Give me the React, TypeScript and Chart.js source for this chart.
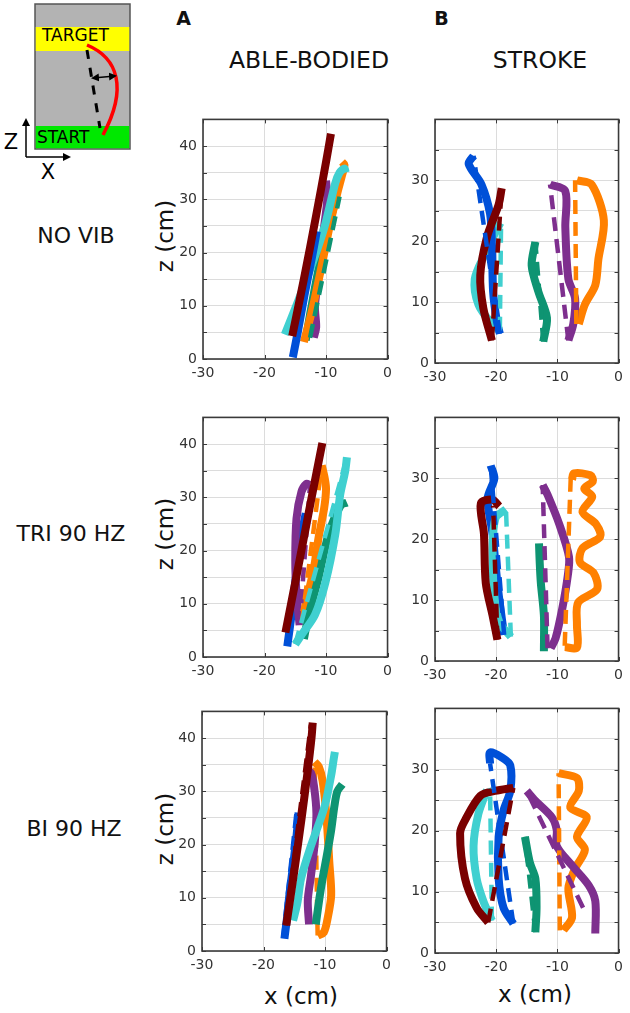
import React, { useEffect, useRef } from 'react';
import { Chart, registerables } from 'chart.js';

Chart.register(...registerables);

type Pt = [number, number];

// ---------- tick / label text ----------
const X_TICKS = [-30, -20, -10, 0];
const ROW_LABELS = ['NO VIB', 'TRI 90 HZ', 'BI 90 HZ'];
const COLUMN_TITLES = ['ABLE-BODIED', 'STROKE'];
const PANEL_LETTERS = ['A', 'B'];
const Y_LABEL = 'z (cm)';
const X_LABEL = 'x (cm)';

// ---------- ABLE-BODIED, NO VIB ----------
const abNoVibMaroon: Pt[] = [[-15.5, 4.3], [-13.6, 15], [-11.6, 27], [-10, 37], [-9.2, 42.3]];
const abNoVibBlue: Pt[] = [[-15.4, 0.3], [-14.6, 5], [-13.5, 12], [-12.3, 19], [-11.5, 24]];
const abNoVibCyan: Pt[] = [[-16.7, 4.6], [-14.5, 11], [-12.2, 18], [-10.2, 25], [-8.5, 33], [-7.8, 35], [-7, 35.8], [-6.8, 35]];
const abNoVibOrange: Pt[] = [[-13.6, 3.2], [-12.3, 9], [-10.8, 17], [-9.4, 25], [-8.2, 31], [-7.4, 34.5], [-7, 36.5], [-7.4, 37]];
const abNoVibGreen: Pt[] = [[-13.3, 3.5], [-12.5, 9], [-11.2, 17], [-9.8, 24], [-8.4, 30]];
const abNoVibGreenDash: Pt[] = [[-12.6, 4], [-7.8, 30.5]];
const abNoVibPurple: Pt[] = [[-12, 4], [-11.6, 6], [-11.8, 10], [-11, 17], [-10.4, 24], [-9.8, 30], [-10, 33.5]];

// ---------- ABLE-BODIED, TRI 90 HZ ----------
const abTriMaroon: Pt[] = [[-16.6, 4.6], [-14.5, 17], [-12.5, 29], [-10.6, 40.2]];
const abTriBlue: Pt[] = [[-16.3, 2], [-15.6, 8], [-14.8, 16], [-13.8, 24], [-13.3, 27]];
const abTriPurple: Pt[] = [[-14.3, 6], [-14.8, 12], [-15, 18], [-14.8, 26], [-14, 31], [-13.2, 32.5], [-12.6, 32.3]];
const abTriPurpleDash: Pt[] = [[-14.3, 6], [-12.6, 32.3]];
const abTriOrange: Pt[] = [[-13.9, 6.7], [-13.1, 11], [-12, 16.5], [-11.2, 22.5], [-10.3, 28], [-10, 31.5], [-10.2, 33.5], [-10.7, 36]];
const abTriOrangeDash: Pt[] = [[-13.9, 6.7], [-10.7, 36]];
const abTriCyan: Pt[] = [[-15, 2.4], [-13.9, 4.3], [-11.8, 7.9], [-10.1, 14], [-8.5, 23], [-7.7, 30.5], [-6.9, 34.8], [-6.6, 37.5]];
const abTriCyanDash: Pt[] = [[-15, 2.4], [-6.6, 37.5]];
const abTriGreen: Pt[] = [[-13.6, 3.4], [-12.8, 8], [-11.2, 15], [-9.6, 23], [-7.6, 28.5], [-6.6, 29]];

// ---------- ABLE-BODIED, BI 90 HZ ----------
const abBiMaroon: Pt[] = [[-16.3, 4.8], [-15, 15], [-13.8, 25], [-12.8, 34], [-12.2, 40], [-12, 42.9]];
const abBiMaroonDash: Pt[] = [[-16.4, 4.8], [-12.3, 42.5]];
const abBiBlue: Pt[] = [[-16.6, 2.3], [-16.2, 6], [-15.8, 10.5], [-15.2, 16], [-14.6, 22], [-14.3, 26]];
const abBiBlueDash: Pt[] = [[-16.8, 2.5], [-14.6, 26.5]];
const abBiPurple: Pt[] = [[-12.6, 5], [-12.8, 9.5], [-12.3, 14], [-11.7, 20], [-11.4, 25.8], [-11.8, 31], [-12.3, 33.5], [-13, 34]];
const abBiOrange: Pt[] = [[-11.2, 2.9], [-10.2, 3.5], [-9.6, 6], [-9, 10.5], [-9.3, 16.6], [-9.8, 25.8], [-10.4, 32], [-11, 34.6], [-11.7, 35.5]];
const abBiOrangeDash: Pt[] = [[-11.2, 2.9], [-11.7, 35.5]];
const abBiCyan: Pt[] = [[-15.2, 5.7], [-14.5, 9], [-13.9, 13.6], [-12.3, 19.7], [-10.1, 27], [-9, 33], [-8.6, 36], [-8.4, 37.4]];
const abBiGreen: Pt[] = [[-11.5, 5], [-10.9, 10], [-10.4, 13.6], [-9.7, 18], [-9, 22.7], [-8.5, 27], [-8, 30], [-7.2, 31.3]];

// ---------- STROKE, NO VIB ----------
const stNoVibBlue: Pt[] = [[-19.4, 4.8], [-19.9, 6.9], [-20.5, 11.7], [-20.7, 19.7], [-21, 24.5], [-22.4, 29.3], [-24.5, 32.7], [-23.7, 34]];
const stNoVibBlueDash: Pt[] = [[-19.4, 4.8], [-23.7, 34]];
const stNoVibMaroon: Pt[] = [[-20.7, 3.7], [-22.1, 9], [-22.6, 14.4], [-21.5, 20.7], [-19.6, 26], [-19.1, 28.7]];
const stNoVibMaroonDash: Pt[] = [[-20.7, 3.7], [-19.1, 28.7]];
const stNoVibCyan: Pt[] = [[-19.4, 5.3], [-20.7, 6.4], [-22.9, 9.6], [-23.5, 13.8], [-21.8, 18], [-20.2, 21.3], [-19.3, 23]];
const stNoVibCyanDash: Pt[] = [[-19.4, 5.3], [-19.2, 23]];
const stNoVibGreen: Pt[] = [[-12.3, 3.5], [-11.7, 7.4], [-13.1, 11.7], [-14.2, 16], [-13.6, 19.9]];
const stNoVibGreenDash: Pt[] = [[-12.3, 3.5], [-13.6, 19.9]];
const stNoVibPurple: Pt[] = [[-8.2, 3.7], [-7.4, 6.4], [-7.1, 10.6], [-8.2, 13.8], [-8.7, 22.3], [-8.7, 28.2], [-11.2, 29.3]];
const stNoVibPurpleDash: Pt[] = [[-8.2, 3.7], [-11.2, 29.3]];
const stNoVibOrange: Pt[] = [[-6.5, 6.4], [-5.5, 9.6], [-3.8, 12.8], [-3.3, 17], [-2.4, 23.4], [-4.4, 29.3], [-6.8, 30]];
const stNoVibOrangeDash: Pt[] = [[-6.9, 6.4], [-7.1, 30]];

// ---------- STROKE, TRI 90 HZ ----------
const stTriBlue: Pt[] = [[-18.7, 4.3], [-19.3, 8.6], [-19.8, 12.8], [-20.6, 20.9], [-21.4, 26.7], [-20.3, 30], [-20.9, 32.1]];
const stTriBlueDash: Pt[] = [[-18.7, 4.3], [-20.9, 32.1]];
const stTriMaroon: Pt[] = [[-19.8, 3.5], [-20.6, 7.5], [-21.7, 12.8], [-22, 20.9], [-22.5, 25.9], [-20.6, 26.5], [-19.5, 25.4]];
const stTriMaroonDash: Pt[] = [[-19.8, 3.5], [-20.5, 25.5]];
const stTriCyan: Pt[] = [[-17.6, 4], [-19.5, 6.4], [-20.3, 10.7], [-20.6, 18.2], [-20.1, 23.5], [-18.4, 24.9]];
const stTriCyanDash: Pt[] = [[-17.6, 4], [-18.4, 24.9]];
const stTriGreen: Pt[] = [[-12.2, 1.6], [-12.2, 7.5], [-12.7, 12.8], [-12.9, 16.5], [-13, 19.3]];
const stTriPurple: Pt[] = [[-11.1, 2.1], [-10.3, 3.7], [-9.2, 8.6], [-8.3, 14], [-8.1, 17.1], [-9.7, 22.5], [-11.6, 27.3], [-12.4, 28.9]];
const stTriPurpleDash: Pt[] = [[-11.6, 2.1], [-12.4, 28.9]];
const stTriOrange: Pt[] = [[-8.8, 2.3], [-6.8, 2.2], [-6.8, 6], [-6.6, 9.6], [-3.5, 11.8], [-4.1, 14.5], [-6.3, 16.2], [-5.9, 18.5], [-3, 20.4], [-3.7, 22.5], [-5.9, 24.5], [-4.3, 27], [-5.6, 28.3], [-4.2, 29.5], [-4.6, 30.5], [-7.3, 30.8], [-7.6, 29.8]];
const stTriOrangeDash: Pt[] = [[-8.8, 2.5], [-7.8, 30.5]];

// ---------- STROKE, BI 90 HZ ----------
const stBiBlue: Pt[] = [[-17.2, 4.8], [-18.8, 7.4], [-19.6, 12.2], [-19.6, 19], [-18.8, 23.3], [-17.7, 26.5], [-17.7, 30.7], [-19.1, 32], [-21, 32.8], [-21, 31]];
const stBiBlueDash: Pt[] = [[-17.2, 4.8], [-21, 31]];
const stBiMaroon: Pt[] = [[-21.3, 5], [-23.2, 7.4], [-25.1, 12.2], [-25.9, 19.6], [-25.1, 21.7], [-22.6, 25.7], [-20.2, 26.5], [-17.2, 27]];
const stBiMaroonDash: Pt[] = [[-21.3, 5], [-17.2, 27]];
const stBiCyan: Pt[] = [[-20.7, 5.3], [-22.1, 8.5], [-23.2, 12.2], [-23.7, 17.5], [-22.9, 22.8], [-21.5, 26.7]];
const stBiCyanDash: Pt[] = [[-20.7, 5.3], [-21, 27]];
const stBiGreen: Pt[] = [[-13.6, 3.4], [-13.4, 7.4], [-13.6, 12.2], [-14.5, 14.8], [-15.3, 19]];
const stBiGreenDash: Pt[] = [[-13.6, 3.4], [-15.3, 19]];
const stBiPurple: Pt[] = [[-3.8, 3.2], [-3.8, 8.5], [-4.9, 11.1], [-7.6, 14.3], [-10.1, 17.5], [-10.1, 20.1], [-10.9, 22.2], [-13.6, 24.9], [-15, 26.5]];
const stBiPurpleDash: Pt[] = [[-5.8, 7.4], [-15, 26.5]];
const stBiOrange: Pt[] = [[-9, 3.7], [-7.6, 5.8], [-8.2, 10.6], [-7.1, 13.8], [-5.5, 16.9], [-6.8, 19], [-5.2, 22.2], [-7.9, 23.8], [-6.5, 26.5], [-6.8, 28.6], [-9.8, 29.4]];
const stBiOrangeDash: Pt[] = [[-9.6, 3.7], [-9.8, 29.4]];

// ---------- styles ----------
const COLORS: Record<string, string> = {
  blue: '#0050d8',
  maroon: '#7a0000',
  cyan: '#40d0d0',
  green: '#0e9472',
  purple: '#7e2f8e',
  orange: '#ff8000',
};
const FONT = "'DejaVu Sans', Verdana, sans-serif";

type Trace = { pts: Pt[]; color: string; dashed?: boolean };
type Box = { l: number; r: number; t: number; b: number };

// traces listed top-most first
const PANELS: { box: Box; yMax: number; traces: Trace[] }[] = [
  {
    box: { l: 203, r: 388, t: 113, b: 359 }, yMax: 45,
    traces: [
      { pts: abNoVibMaroon, color: 'maroon' },
      { pts: abNoVibBlue, color: 'blue' },
      { pts: abNoVibCyan, color: 'cyan' },
      { pts: abNoVibGreenDash, color: 'green', dashed: true },
      { pts: abNoVibOrange, color: 'orange' },
      { pts: abNoVibGreen, color: 'green' },
      { pts: abNoVibPurple, color: 'purple' },
    ],
  },
  {
    box: { l: 435, r: 619, t: 113, b: 363 }, yMax: 40,
    traces: [
      { pts: stNoVibMaroonDash, color: 'maroon', dashed: true },
      { pts: stNoVibBlueDash, color: 'blue', dashed: true },
      { pts: stNoVibCyanDash, color: 'cyan', dashed: true },
      { pts: stNoVibGreenDash, color: 'green', dashed: true },
      { pts: stNoVibPurpleDash, color: 'purple', dashed: true },
      { pts: stNoVibOrangeDash, color: 'orange', dashed: true },
      { pts: stNoVibMaroon, color: 'maroon' },
      { pts: stNoVibBlue, color: 'blue' },
      { pts: stNoVibCyan, color: 'cyan' },
      { pts: stNoVibGreen, color: 'green' },
      { pts: stNoVibPurple, color: 'purple' },
      { pts: stNoVibOrange, color: 'orange' },
    ],
  },
  {
    box: { l: 203, r: 388, t: 411, b: 657 }, yMax: 45,
    traces: [
      { pts: abTriMaroon, color: 'maroon' },
      { pts: abTriCyanDash, color: 'cyan', dashed: true },
      { pts: abTriCyan, color: 'cyan' },
      { pts: abTriGreen, color: 'green' },
      { pts: abTriOrangeDash, color: 'orange', dashed: true },
      { pts: abTriPurpleDash, color: 'purple', dashed: true },
      { pts: abTriOrange, color: 'orange' },
      { pts: abTriPurple, color: 'purple' },
      { pts: abTriBlue, color: 'blue' },
    ],
  },
  {
    box: { l: 435, r: 619, t: 411, b: 661 }, yMax: 40,
    traces: [
      { pts: stTriMaroonDash, color: 'maroon', dashed: true },
      { pts: stTriCyanDash, color: 'cyan', dashed: true },
      { pts: stTriPurpleDash, color: 'purple', dashed: true },
      { pts: stTriOrangeDash, color: 'orange', dashed: true },
      { pts: stTriBlueDash, color: 'blue', dashed: true },
      { pts: stTriMaroon, color: 'maroon' },
      { pts: stTriCyan, color: 'cyan' },
      { pts: stTriBlue, color: 'blue' },
      { pts: stTriGreen, color: 'green' },
      { pts: stTriPurple, color: 'purple' },
      { pts: stTriOrange, color: 'orange' },
    ],
  },
  {
    box: { l: 202, r: 387, t: 705, b: 951 }, yMax: 45,
    traces: [
      { pts: abBiMaroon, color: 'maroon' },
      { pts: abBiMaroonDash, color: 'maroon', dashed: true },
      { pts: abBiCyan, color: 'cyan' },
      { pts: abBiGreen, color: 'green' },
      { pts: abBiPurple, color: 'purple' },
      { pts: abBiOrangeDash, color: 'orange', dashed: true },
      { pts: abBiOrange, color: 'orange' },
      { pts: abBiBlueDash, color: 'blue', dashed: true },
      { pts: abBiBlue, color: 'blue' },
    ],
  },
  {
    box: { l: 435, r: 619, t: 702, b: 953 }, yMax: 40,
    traces: [
      { pts: stBiMaroonDash, color: 'maroon', dashed: true },
      { pts: stBiCyanDash, color: 'cyan', dashed: true },
      { pts: stBiBlueDash, color: 'blue', dashed: true },
      { pts: stBiGreenDash, color: 'green', dashed: true },
      { pts: stBiPurpleDash, color: 'purple', dashed: true },
      { pts: stBiOrangeDash, color: 'orange', dashed: true },
      { pts: stBiMaroon, color: 'maroon' },
      { pts: stBiBlue, color: 'blue' },
      { pts: stBiCyan, color: 'cyan' },
      { pts: stBiGreen, color: 'green' },
      { pts: stBiPurple, color: 'purple' },
      { pts: stBiOrange, color: 'orange' },
    ],
  },
];

const YW = 45;
const PT = 8;
const PR = 10;
const XH = 32;

const framePlugin = {
  id: 'frameBox',
  afterDraw(chart: any) {
    const { ctx, chartArea: a, scales } = chart;
    ctx.save();
    ctx.strokeStyle = '#3a3a3a';
    ctx.lineWidth = 1;
    scales.y.ticks.forEach((t: any) => {
      const y = Math.round(scales.y.getPixelForValue(t.value)) + 0.5;
      ctx.beginPath();
      ctx.moveTo(a.left, y);
      ctx.lineTo(a.left + 4, y);
      ctx.moveTo(a.right, y);
      ctx.lineTo(a.right - 4, y);
      ctx.stroke();
    });
    scales.x.ticks.forEach((t: any) => {
      const x = Math.round(scales.x.getPixelForValue(t.value)) + 0.5;
      ctx.beginPath();
      ctx.moveTo(x, a.bottom);
      ctx.lineTo(x, a.bottom - 4);
      ctx.moveTo(x, a.top);
      ctx.lineTo(x, a.top + 4);
      ctx.stroke();
    });
    ctx.lineWidth = 1.6;
    ctx.strokeRect(a.left, a.top, a.right - a.left, a.bottom - a.top);
    ctx.restore();
  },
};

function Panel({ box, yMax, traces }: { box: Box; yMax: number; traces: Trace[] }) {
  const ref = useRef<HTMLCanvasElement>(null);
  const w = YW + (box.r - box.l) + PR;
  const h = PT + (box.b - box.t) + XH;
  useEffect(() => {
    if (!ref.current) return;
    const chart = new Chart(ref.current, {
      type: 'scatter',
      data: {
        datasets: traces.map((tr, i) => ({
          data: tr.pts.map(([x, y]) => ({ x, y })),
          showLine: true,
          borderColor: COLORS[tr.color],
          backgroundColor: COLORS[tr.color],
          borderWidth: tr.dashed ? 4.5 : 8,
          borderDash: tr.dashed ? [14, 8] : [],
          borderCapStyle: 'butt',
          borderJoinStyle: 'round',
          pointRadius: 0,
          tension: 0.3,
          order: i,
        })),
      },
      options: {
        responsive: false,
        animation: false,
        events: [],
        layout: { padding: { top: PT, right: PR, left: 0, bottom: 0 } },
        plugins: { legend: { display: false }, tooltip: { enabled: false } },
        scales: {
          x: {
            type: 'linear',
            min: X_TICKS[0],
            max: X_TICKS[X_TICKS.length - 1],
            afterBuildTicks: (s: any) => {
              s.ticks = X_TICKS.map((v) => ({ value: v }));
            },
            afterFit: (s: any) => {
              s.height = XH;
            },
            ticks: {
              padding: 6,
              color: '#333',
              font: { family: FONT, size: 14 },
              maxRotation: 0,
              autoSkip: false,
            },
            grid: { color: '#dcdcdc', lineWidth: 1, drawTicks: false },
            border: { display: false },
          },
          y: {
            type: 'linear',
            min: 0,
            max: yMax,
            afterFit: (s: any) => {
              s.width = YW;
            },
            ticks: {
              stepSize: 5,
              padding: 6,
              autoSkip: false,
              color: '#333',
              font: { family: FONT, size: 14 },
              callback: (v: any) => (Number(v) % 10 === 0 && Number(v) < yMax - 1 ? String(v) : ''),
            },
            grid: { color: '#dcdcdc', lineWidth: 1, drawTicks: false },
            border: { display: false },
          },
        },
      },
      plugins: [framePlugin],
    } as any);
    return () => chart.destroy();
  }, []);
  return (
    <canvas
      ref={ref}
      width={w}
      height={h}
      style={{ position: 'absolute', left: box.l - YW, top: box.t - PT, width: w, height: h }}
    />
  );
}

function Label({ text, cx, cy, size, bold, rotate }: { text: string; cx: number; cy: number; size: number; bold?: boolean; rotate?: boolean }) {
  return (
    <div
      style={{
        position: 'absolute',
        left: cx,
        top: cy,
        transform: `translate(-50%, -50%)${rotate ? ' rotate(-90deg)' : ''}`,
        fontFamily: FONT,
        fontSize: size,
        fontWeight: bold ? 'bold' : 'normal',
        color: '#111',
        whiteSpace: 'nowrap',
        lineHeight: 1,
      }}
    >
      {text}
    </div>
  );
}

function Schematic() {
  return (
    <svg width={140} height={190} style={{ position: 'absolute', left: 0, top: 0 }}>
      <defs>
        <marker id="ah" markerWidth="8" markerHeight="8" refX="6" refY="4" orient="auto-start-reverse" markerUnits="userSpaceOnUse">
          <path d="M0,0 L8,4 L0,8 z" fill="#000" />
        </marker>
      </defs>
      <rect x={35} y={4} width={95} height={145} fill="#b3b3b3" stroke="#555" strokeWidth={1.5} />
      <rect x={35.75} y={27} width={93.5} height={24} fill="#ffff00" />
      <rect x={35.75} y={126} width={93.5} height={22.25} fill="#00e800" />
      <text x={42} y={41} fontFamily={FONT} fontSize={17} fill="#000">TARGET</text>
      <text x={37} y={143} fontFamily={FONT} fontSize={17} fill="#000">START</text>
      <line x1={87} y1={50} x2={100} y2={128} stroke="#000" strokeWidth={3} strokeDasharray="9 9" />
      <path d="M 87 45 C 118 58, 128 88, 103 135" stroke="#ff0000" strokeWidth={3.5} fill="none" />
      <line x1={93} y1={78} x2={115} y2={76} stroke="#000" strokeWidth={1.5} markerStart="url(#ah)" markerEnd="url(#ah)" />
      <line x1={26} y1={157} x2={26} y2={120} stroke="#000" strokeWidth={1.5} markerEnd="url(#ah)" />
      <line x1={26} y1={157} x2={69} y2={157} stroke="#000" strokeWidth={1.5} markerEnd="url(#ah)" />
      <text x={11} y={143} fontFamily={FONT} fontSize={21} fill="#000" textAnchor="middle" dominantBaseline="middle">Z</text>
      <text x={48} y={173} fontFamily={FONT} fontSize={21} fill="#000" textAnchor="middle" dominantBaseline="middle">X</text>
    </svg>
  );
}

export default function App() {
  const rowCenters = [236, 534, 829];
  const rowLabelX = [76, 71, 74];
  return (
    <div style={{ position: 'absolute', left: 0, top: 0, width: 630, height: 1013, overflow: 'hidden', background: '#fff' }}>
      <Schematic />
      <Label text={PANEL_LETTERS[0]} cx={183.5} cy={17.5} size={19} bold />
      <Label text={PANEL_LETTERS[1]} cx={441.5} cy={17.5} size={19} bold />
      <Label text={COLUMN_TITLES[0]} cx={309} cy={61} size={23.5} />
      <Label text={COLUMN_TITLES[1]} cx={540} cy={61} size={23.5} />
      {ROW_LABELS.map((t, i) => (
        <Label key={t} text={t} cx={rowLabelX[i]} cy={rowCenters[i]} size={22} />
      ))}
      {rowCenters.map((cy, i) => (
        <Label key={'z' + i} text={Y_LABEL} cx={165} cy={cy} size={23} rotate />
      ))}
      <Label text={X_LABEL} cx={301} cy={996} size={23} />
      <Label text={X_LABEL} cx={535} cy={994} size={23} />
      {PANELS.map((p, i) => (
        <Panel key={i} box={p.box} yMax={p.yMax} traces={p.traces} />
      ))}
    </div>
  );
}
